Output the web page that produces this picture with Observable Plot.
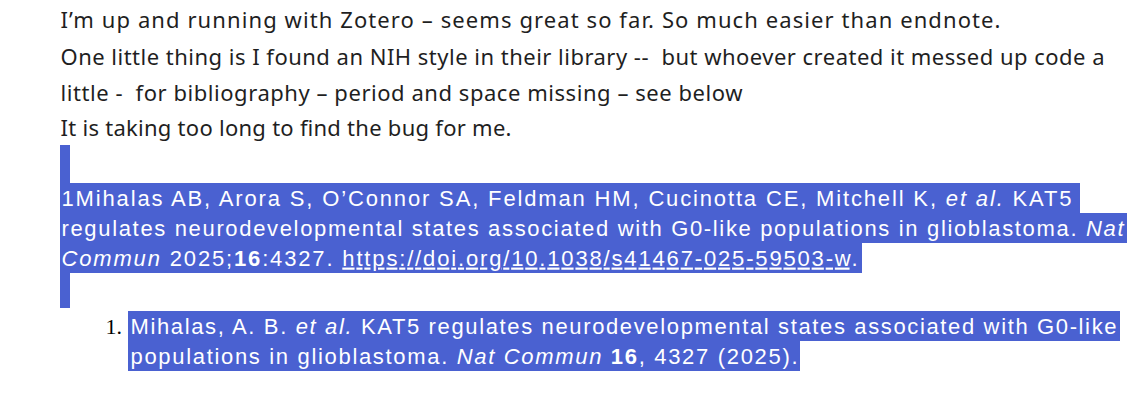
<!DOCTYPE html>
<html><head><meta charset="utf-8">
<script src="https://cdn.jsdelivr.net/npm/d3@7"></script>
<script src="https://cdn.jsdelivr.net/npm/@observablehq/plot@0.6"></script>
<style>body{margin:0;background:#fff}</style>
</head><body><div id="c"></div>
<script>
// plain paragraph lines
const plainLines = [
  "I’m up and running with Zotero – seems great so far. So much easier than endnote.",
  "One little thing is I found an NIH style in their library --  but whoever created it messed up code a",
  "little -  for bibliography – period and space missing – see below",
  "It is taking too long to find the bug for me."
];
const plainY = [20, 57, 93, 128];
const plainEnd = [1000, 1104, 742, 511];
// highlighted citation lines (markup: _italic_, *bold*, ~underline~)
const hlLines = [
  "1Mihalas AB, Arora S, O’Connor SA, Feldman HM, Cucinotta CE, Mitchell K, _et al._ KAT5",
  "regulates neurodevelopmental states associated with G0-like populations in glioblastoma. _Nat_",
  "_Commun_ 2025;*16*:4327. ~https://doi.org/10.1038/s41467-025-59503-w~."
];
const hlY = [198, 228, 258];
const hlRight = [1080, 1127, 862];
const hlEnd = [1071, 1123, 857];
const refLines = [
  "Mihalas, A. B. _et al._ KAT5 regulates neurodevelopmental states associated with G0-like",
  "populations in glioblastoma. _Nat Commun_ *16*, 4327 (2025)."
];
const refY = [326, 356];
const refRight = [1120, 800];
const refEnd = [1116, 797];
const blue = "#4a61d1";

const plot = Plot.plot({
  width: 1143, height: 403, margin: 0,
  x: {domain: [0, 1143], range: [0, 1143], axis: null},
  y: {domain: [0, 403], range: [0, 403], axis: null},
  marks: [
    Plot.rect([0], {x1: 60, x2: 70, y1: 145, y2: 308, fill: blue}),
    Plot.rect(hlY, {x1: 60, x2: (d, i) => hlRight[i], y1: d => d - 15, y2: d => d + 15, fill: blue}),
    Plot.rect(refY, {x1: 128, x2: (d, i) => refRight[i], y1: d => d - 15, y2: d => d + 15, fill: blue}),
    Plot.text(plainLines, {x: 60, y: (d, i) => plainY[i], text: d => d, textAnchor: "start", lineAnchor: "middle", fill: "#1f1f1f", fontSize: 22, fontFamily: "Noto Sans", className: "mk-p"}),
    Plot.text(hlLines, {x: 61, y: (d, i) => hlY[i], text: d => d, textAnchor: "start", lineAnchor: "middle", fill: "white", fontSize: 22, fontFamily: "Liberation Sans", className: "mk-h"}),
    Plot.text(["1."], {x: 105, y: refY[0], text: d => d, textAnchor: "start", lineAnchor: "middle", fill: "black", fontSize: 22, fontFamily: "Liberation Serif"}),
    Plot.text(refLines, {x: 130, y: (d, i) => refY[i], text: d => d, textAnchor: "start", lineAnchor: "middle", fill: "white", fontSize: 22, fontFamily: "Liberation Sans", className: "mk-r"})
  ]
});
document.getElementById("c").append(plot);
// stretch each line to its measured width in the reference
const fit = (cls, ends, x0) => d3.select(plot).selectAll(`g.${cls} text`).each(function(_, i) {
  this.setAttribute("textLength", ends[i] - x0);
  this.setAttribute("lengthAdjust", "spacing");
});
fit("mk-p", plainEnd, 60); fit("mk-h", hlEnd, 61); fit("mk-r", refEnd, 130);
// convert inline markup into tspans
d3.select(plot).selectAll("text").each(function() {
  const s = this.textContent;
  if (!/[_*~]/.test(s)) return;
  this.textContent = "";
  const parts = s.split(/(_[^_]+_|\*[^*]+\*|~[^~]+~)/);
  for (const p of parts) {
    if (!p) continue;
    const t = document.createElementNS("http://www.w3.org/2000/svg", "tspan");
    if (p[0] === "_") { t.setAttribute("font-style", "italic"); t.textContent = p.slice(1, -1); }
    else if (p[0] === "*") { t.setAttribute("font-weight", "bold"); t.textContent = p.slice(1, -1); }
    else if (p[0] === "~") { t.setAttribute("text-decoration", "underline"); t.textContent = p.slice(1, -1); }
    else t.textContent = p;
    this.appendChild(t);
  }
});
</script></body></html>
